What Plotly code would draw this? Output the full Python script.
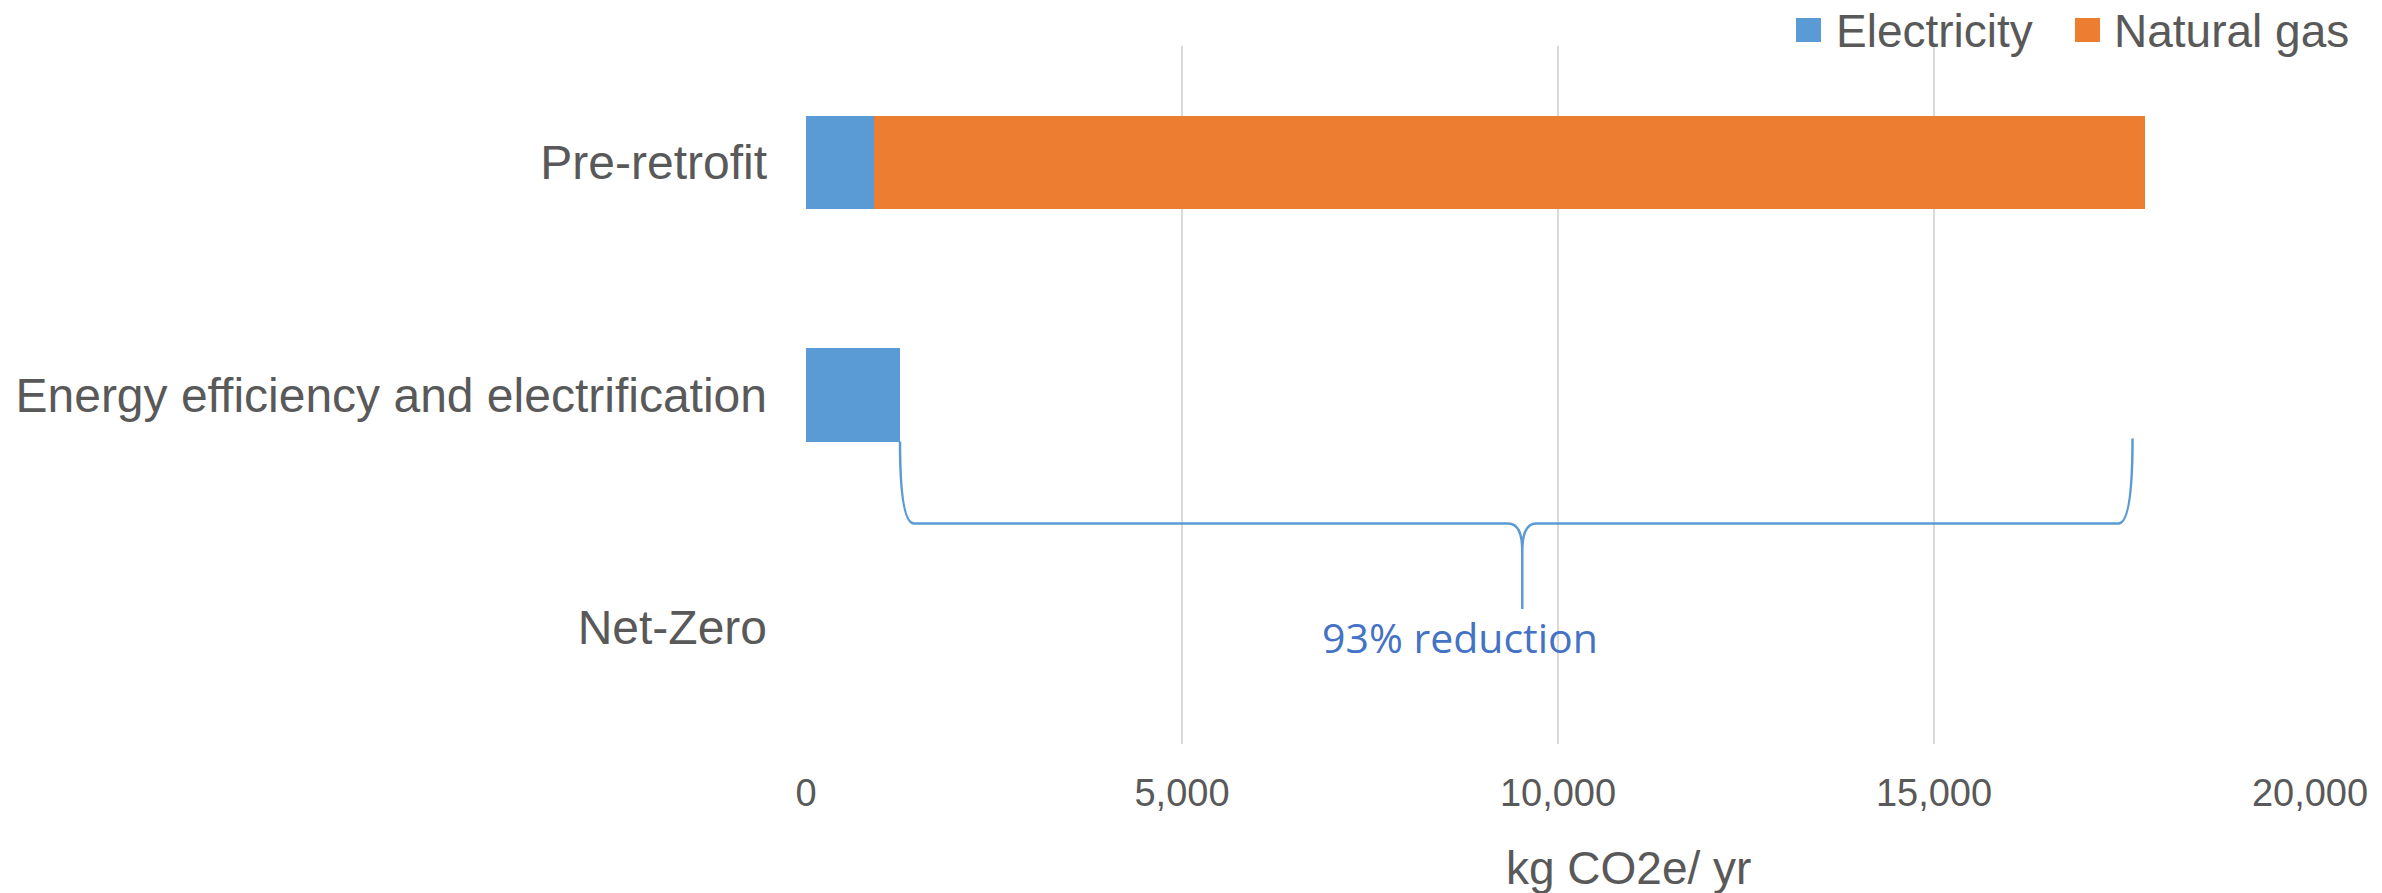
import plotly.graph_objects as go

# Emissions by scenario (kg CO2e per year)
scenarios = ["Pre-retrofit", "Energy efficiency and electrification", "Net-Zero"]
electricity = [900, 1250, 0]
natural_gas = [16900, 0, 0]
series_names = ["Electricity", "Natural gas"]
series_colors = ["#5B9BD5", "#ED7D31"]
x_ticks = [0, 5000, 10000, 15000, 20000]

W, H = 2382, 893
L, R, T, B = 806, 72, 46, 149
TEXT = "#595959"
FONT = "Arial, Liberation Sans, sans-serif"


def px_x(px):
    return (px - L) / (W - L - R)


def px_y(py):
    return (H - B - py) / (H - T - B)


fig = go.Figure()
for name, vals, col in zip(series_names, [electricity, natural_gas], series_colors):
    fig.add_trace(go.Bar(
        y=scenarios, x=vals, name=name, orientation="h",
        marker=dict(color=col, line=dict(width=0)),
        width=0.4, showlegend=False,
    ))

# Brace spanning the reduction from pre-retrofit to the efficiency scenario
pre_total = electricity[0] + natural_gas[0]
eff_total = electricity[1] + natural_gas[1]
reduction = (pre_total - eff_total) / pre_total
xm = (pre_total + eff_total) / 2
y_top, y_line, y_tip = 1.2, 1.552, 1.92
dx = 186
x_right = pre_total - 160
path = (
    f"M{eff_total},{y_top} Q{eff_total},{y_line} {eff_total + dx},{y_line} "
    f"L{xm - dx},{y_line} Q{xm},{y_line} {xm},{y_line + 0.12} L{xm},{y_tip} "
    f"M{xm},{y_line + 0.12} Q{xm},{y_line} {xm + dx},{y_line} "
    f"L{x_right - dx},{y_line} Q{x_right},{y_line} {x_right},{y_top - 0.013}"
)
fig.add_shape(type="path", path=path, xref="x", yref="y",
              line=dict(color="#5B9BD5", width=2.5))

fig.add_annotation(x=xm, y=2.04, xref="x", yref="y", xshift=-62,
                   text=f"{reduction:.0%} reduction", showarrow=False,
                   font=dict(family="Open Sans", size=41, color="#4472C4"),
                   xanchor="center", yanchor="middle")

# Axis title
fig.add_annotation(x=px_x(1628), y=px_y(868), xref="paper", yref="paper",
                   text="kg CO2e/ yr", showarrow=False,
                   font=dict(family=FONT, size=46, color=TEXT),
                   xanchor="center", yanchor="middle")

# Legend drawn as swatches and labels
legend_items = [(1796, 1834), (2075, 2112)]
for (sx, tx), name, col in zip(legend_items, series_names, series_colors):
    fig.add_shape(type="rect", xref="paper", yref="paper",
                  x0=px_x(sx), x1=px_x(sx + 25), y0=px_y(18), y1=px_y(42),
                  fillcolor=col, line=dict(width=0))
    fig.add_annotation(x=px_x(tx), y=px_y(31), xref="paper", yref="paper",
                       text=name, showarrow=False,
                       font=dict(family=FONT, size=46, color=TEXT),
                       xanchor="left", yanchor="middle")

fig.update_layout(
    barmode="stack",
    width=W, height=H,
    margin=dict(l=L, r=R, t=T, b=B, pad=0),
    paper_bgcolor="white", plot_bgcolor="white",
    font=dict(family=FONT, color=TEXT),
    xaxis=dict(range=[0, 20000], tickvals=x_ticks, tickformat=",",
               showgrid=True, gridcolor="#D9D9D9", gridwidth=2,
               zeroline=False, showline=False, ticks="",
               tickfont=dict(family=FONT, size=38, color=TEXT),
               ticklabelstandoff=23),
    yaxis=dict(categoryorder="array", categoryarray=scenarios,
               range=[2.5, -0.5], showgrid=False, zeroline=False,
               showline=False, ticks="",
               tickfont=dict(family=FONT, size=48, color=TEXT),
               ticklabelstandoff=38),
)

fig.write_html("out.html")
